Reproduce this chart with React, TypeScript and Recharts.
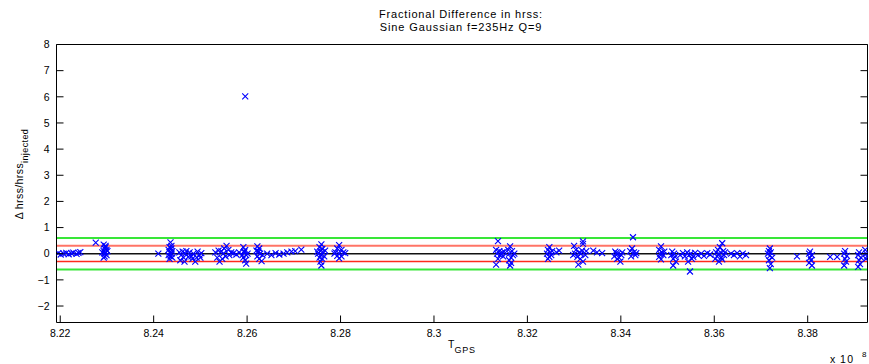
import React from 'react';
import { ScatterChart, Scatter, XAxis, YAxis, ReferenceLine, Customized } from 'recharts';

// GPS time (x 10^8 s) and fractional difference in hrss
const run1: [number, number][] = [
  [8.2196, 0.02], [8.2201, -0.03], [8.2207, 0.0], [8.2213, 0.03], [8.2218, -0.02], [8.2224, 0.01], [8.2228, 0.04], [8.2235, -0.01], [8.2239, 0.03], [8.2243, 0.06],
  [8.2276, 0.42],
  [8.2293, 0.35], [8.2297, 0.3], [8.2295, 0.2], [8.2299, 0.15], [8.2293, 0.1], [8.2297, 0.05], [8.2295, 0.0], [8.2299, -0.05], [8.2295, -0.1], [8.2293, -0.15], [8.2297, 0.25], [8.2301, 0.1], [8.229, 0.05],
  [8.241, 0.0],
  [8.2436, 0.43], [8.2434, 0.25], [8.2438, 0.2], [8.2432, 0.15], [8.244, 0.1], [8.2434, 0.05], [8.2438, 0.0], [8.2432, -0.05], [8.2436, -0.1], [8.244, -0.15], [8.2434, -0.2], [8.2438, 0.3],
  [8.2455, 0.05], [8.2459, -0.05], [8.2464, -0.15], [8.2468, 0.0], [8.2457, -0.25], [8.2466, -0.3], [8.247, 0.1], [8.2462, 0.08], [8.2477, 0.05], [8.2481, -0.1], [8.2485, 0.0], [8.2489, -0.3], [8.2494, 0.08], [8.2498, -0.05], [8.2502, 0.02], [8.2483, -0.2], [8.2492, -0.15], [8.2474, -0.12], [8.25, -0.15],
  [8.2532, 0.05], [8.2536, -0.15], [8.2541, -0.3], [8.2545, 0.1], [8.2549, 0.0], [8.2554, -0.1], [8.2556, 0.3], [8.256, 0.15], [8.2562, -0.05], [8.2566, 0.05], [8.2551, 0.2], [8.2539, 0.12], [8.2547, -0.2],
  [8.2571, 0.02], [8.2577, -0.03], [8.2583, 0.05],
  [8.2592, 0.25], [8.2596, 0.15], [8.2594, 0.05], [8.2598, -0.05], [8.2592, -0.15], [8.2596, -0.25], [8.2598, -0.38], [8.2594, 0.1], [8.2601, 0.0], [8.259, -0.05], [8.2596, 6.02],
  [8.2622, 0.28], [8.2626, 0.2], [8.2624, 0.1], [8.2628, 0.0], [8.2622, -0.1], [8.2626, -0.2], [8.2631, -0.28], [8.2624, 0.05], [8.2633, -0.05], [8.262, 0.12],
  [8.2643, 0.0], [8.2652, -0.05], [8.2661, 0.02], [8.2669, -0.03], [8.2678, 0.0], [8.2686, 0.05], [8.2695, 0.08], [8.2703, 0.1], [8.2716, 0.16],
  [8.2759, 0.36], [8.2755, 0.25], [8.2761, 0.18], [8.2757, 0.1], [8.2763, 0.05], [8.2752, 0.0], [8.2759, -0.05], [8.2765, -0.1], [8.2755, -0.15], [8.2761, -0.2], [8.2759, -0.45], [8.275, 0.08], [8.2767, 0.12], [8.2757, -0.3],
  [8.2797, 0.33], [8.2793, 0.2], [8.2802, 0.15], [8.2789, 0.05], [8.2806, 0.05], [8.2797, 0.0], [8.2793, -0.08], [8.2802, -0.1], [8.2797, -0.18], [8.281, 0.02], [8.2787, 0.0],
];

const run2: [number, number][] = [
  [8.3137, 0.48],
  [8.3133, 0.15], [8.314, 0.1], [8.3146, 0.05], [8.3135, 0.0], [8.3142, -0.05], [8.3148, -0.1], [8.3137, -0.2], [8.3144, 0.0], [8.3133, -0.42], [8.315, 0.08],
  [8.3163, 0.28], [8.3159, 0.15], [8.3167, 0.1], [8.3161, 0.0], [8.3169, -0.05], [8.3165, -0.15], [8.3161, -0.25], [8.3165, -0.35], [8.3163, -0.45], [8.3172, 0.0],
  [8.3247, 0.25], [8.3244, 0.15], [8.3249, 0.05], [8.3242, 0.0], [8.3251, -0.05], [8.3247, -0.12], [8.3244, -0.2], [8.3253, 0.1], [8.3262, 0.05], [8.3268, 0.12],
  [8.3319, 0.47], [8.3319, 0.38], [8.33, 0.3], [8.3304, 0.15], [8.3311, 0.05], [8.3315, 0.0], [8.3324, -0.05], [8.3298, -0.05], [8.3307, -0.12], [8.3313, -0.2], [8.3319, -0.3], [8.3309, -0.42], [8.3326, 0.1], [8.3302, 0.0], [8.3317, 0.12],
  [8.3341, 0.12], [8.3349, 0.05], [8.336, 0.02],
  [8.3388, 0.08], [8.3394, 0.0], [8.3401, -0.05], [8.3386, -0.1], [8.3392, -0.2], [8.3399, -0.3], [8.3403, 0.05], [8.3396, -0.15], [8.339, 0.02],
  [8.342, 0.1], [8.3426, 0.63], [8.3424, 0.2], [8.3428, 0.05], [8.3422, -0.1], [8.3431, -0.05], [8.3433, 0.02],
];

const run3: [number, number][] = [
  [8.3486, 0.28], [8.3482, 0.15], [8.3488, 0.05], [8.3484, 0.0], [8.3491, -0.05], [8.3482, -0.12], [8.3486, -0.22], [8.3493, 0.08],
  [8.351, 0.08], [8.3514, 0.0], [8.3508, -0.05], [8.3516, -0.12], [8.3512, -0.2], [8.3518, -0.3], [8.3512, -0.45],
  [8.3527, -0.05], [8.3533, 0.02], [8.3537, -0.1], [8.3542, 0.05], [8.3546, -0.05], [8.3548, -0.68], [8.355, 0.0], [8.3555, -0.12], [8.3559, 0.03], [8.3565, -0.05], [8.3572, 0.0], [8.3578, -0.08], [8.3585, 0.02], [8.3591, -0.03], [8.3544, -0.3], [8.3552, -0.2],
  [8.3617, 0.4], [8.3612, 0.25], [8.3608, 0.15], [8.3619, 0.1], [8.3604, 0.05], [8.361, 0.0], [8.3621, -0.05], [8.3606, -0.1], [8.3615, -0.15], [8.3602, -0.2], [8.361, -0.3], [8.3617, -0.22], [8.3623, 0.05],
  [8.3636, 0.0], [8.3642, -0.05], [8.3649, 0.02], [8.3655, -0.1], [8.3661, 0.0], [8.3668, -0.05],
  [8.3719, 0.2], [8.3717, 0.1], [8.3721, 0.05], [8.3715, 0.0], [8.3719, -0.08], [8.3724, -0.15], [8.3717, -0.25], [8.3721, -0.4], [8.3719, -0.55],
  [8.3777, -0.1],
  [8.3805, 0.08], [8.3803, 0.0], [8.3809, -0.05], [8.3805, -0.15], [8.3807, -0.25], [8.3803, -0.35], [8.3809, -0.45],
  [8.3848, -0.12], [8.3863, -0.12],
  [8.388, 0.1], [8.3878, 0.0], [8.3884, -0.08], [8.388, -0.2], [8.3882, -0.3], [8.3878, -0.45],
  [8.391, 0.05], [8.3908, -0.05], [8.3914, -0.15], [8.391, -0.25], [8.3912, -0.4], [8.3908, -0.5],
  [8.3923, 0.15], [8.3925, 0.0], [8.3927, -0.1], [8.3925, -0.2],
];

const xTicks = [8.22, 8.24, 8.26, 8.28, 8.3, 8.32, 8.34, 8.36, 8.38];
const yTicks = [-2, -1, 0, 1, 2, 3, 4, 5, 6, 7, 8];
const xDomain: [number, number] = [8.2192, 8.3928];
const yDomain: [number, number] = [-2.63, 8];
const thresholds = [0.6, 0.3, 0, -0.3, -0.6];

const lineStyle: Record<string, { stroke: string; width: number }> = {
  '0.6': { stroke: '#38e638', width: 2 },
  '0.3': { stroke: '#ff7466', width: 2 },
  '0': { stroke: '#111111', width: 1.5 },
  '-0.3': { stroke: '#ff2b1c', width: 1.5 },
  '-0.6': { stroke: '#38e638', width: 2 },
};

const FONT = '"Liberation Sans", Arial, Helvetica, sans-serif';
const TICK_LEN = 7;
const LABEL_GAP = 7;

const data = [...run1, ...run2, ...run3].map(([t, d]) => ({ t, d }));

const XMark = (props: any) => {
  const { cx, cy } = props;
  if (cx == null || cy == null) return null;
  const s = 3;
  return (
    <path
      d={`M${cx - s},${cy - s}L${cx + s},${cy + s}M${cx - s},${cy + s}L${cx + s},${cy - s}`}
      stroke="#0000ff"
      strokeWidth={1.1}
      fill="none"
    />
  );
};

const fmtX = (v: number) => String(parseFloat(v.toFixed(2)));
const fmtY = (v: number) => (v < 0 ? '\u2212' + Math.abs(v) : String(v));

// bottom axis: tick line drawn inward (upward) plus label below
const BottomTick = (props: any) => {
  const { x, y, payload } = props;
  const axisY = y - LABEL_GAP;
  return (
    <g>
      <line x1={x} x2={x} y1={axisY} y2={axisY - TICK_LEN} stroke="#000" strokeWidth={1} />
      <text x={x} y={y} dy="0.71em" textAnchor="middle" fontSize={10.5} fontFamily={FONT} fill="#000">
        {fmtX(payload.value)}
      </text>
    </g>
  );
};
const TopTick = (props: any) => {
  const { x, y } = props;
  return <line x1={x} x2={x} y1={y} y2={y + TICK_LEN} stroke="#000" strokeWidth={1} />;
};
const LeftTick = (props: any) => {
  const { x, y, payload } = props;
  const axisX = x + LABEL_GAP;
  return (
    <g>
      <line x1={axisX} x2={axisX + TICK_LEN} y1={y} y2={y} stroke="#000" strokeWidth={1} />
      <text x={x} y={y} dy="0.36em" textAnchor="end" fontSize={10.5} fontFamily={FONT} fill="#000">
        {fmtY(payload.value)}
      </text>
    </g>
  );
};
const RightTick = (props: any) => {
  const { x, y } = props;
  return <line x1={x} x2={x - TICK_LEN} y1={y} y2={y} stroke="#000" strokeWidth={1} />;
};

const Texts = () => (
  <g fontFamily={FONT} fill="#000">
    <text x={461} y={18.3} textAnchor="middle" fontSize={11} letterSpacing={0.8}>
      Fractional Difference in hrss:
    </text>
    <text x={461} y={30.7} textAnchor="middle" fontSize={11} letterSpacing={0.9}>
      Sine Gaussian f=235Hz Q=9
    </text>
    <text transform="translate(23,174) rotate(-90)" textAnchor="middle" fontSize={10.5} letterSpacing={0.4}>
      Δ hrss/hrss<tspan dy={5} fontSize={9}>injected</tspan>
    </text>
    <text x={448} y={348} fontSize={10.5}>
      T<tspan dy={5} fontSize={9} letterSpacing={0.8}>GPS</tspan>
    </text>
    <text x={830} y={363} fontSize={10.5}>x</text>
    <text x={840} y={363} fontSize={10.5} letterSpacing={1.5}>10</text>
    <text x={862} y={357} fontSize={8}>8</text>
  </g>
);

export default function App() {
  return (
    <div style={{ position: 'absolute', left: 0, top: 0, background: '#fff' }}>
      <ScatterChart
        width={869}
        height={364}
        margin={{ top: 43.5, right: 0.5, bottom: 11.5, left: 6.5 }}
        style={{ fontFamily: FONT }}
      >
        <XAxis
          xAxisId="b"
          type="number"
          dataKey="t"
          orientation="bottom"
          domain={xDomain}
          allowDataOverflow
          ticks={xTicks}
          interval={0}
          height={30}
          tickSize={0}
          tickMargin={LABEL_GAP}
          axisLine={{ stroke: '#000', strokeWidth: 1 }}
          tickLine={false}
          tick={BottomTick}
        />
        <XAxis
          xAxisId="top"
          type="number"
          orientation="top"
          domain={xDomain}
          allowDataOverflow
          ticks={xTicks}
          interval={0}
          height={1}
          tickSize={0}
          tickMargin={0}
          tickLine={false}
          tick={TopTick}
          axisLine={{ stroke: '#000', strokeWidth: 1 }}
        />
        <YAxis
          yAxisId="l"
          type="number"
          dataKey="d"
          orientation="left"
          domain={yDomain}
          allowDataOverflow
          ticks={yTicks}
          interval={0}
          width={50}
          tickSize={0}
          tickMargin={LABEL_GAP}
          axisLine={{ stroke: '#000', strokeWidth: 1 }}
          tickLine={false}
          tick={LeftTick}
        />
        <YAxis
          yAxisId="r"
          type="number"
          orientation="right"
          domain={yDomain}
          allowDataOverflow
          ticks={yTicks}
          interval={0}
          width={1}
          tickSize={0}
          tickMargin={0}
          tickLine={false}
          tick={RightTick}
          axisLine={{ stroke: '#000', strokeWidth: 1 }}
        />
        {thresholds.map((v) => (
          <ReferenceLine
            key={v}
            xAxisId="b"
            yAxisId="l"
            y={v}
            stroke={lineStyle[String(v)].stroke}
            strokeWidth={lineStyle[String(v)].width}
          />
        ))}
        <Scatter xAxisId="b" yAxisId="l" data={data} shape={XMark} isAnimationActive={false} />
        <Customized component={Texts} />
      </ScatterChart>
    </div>
  );
}
